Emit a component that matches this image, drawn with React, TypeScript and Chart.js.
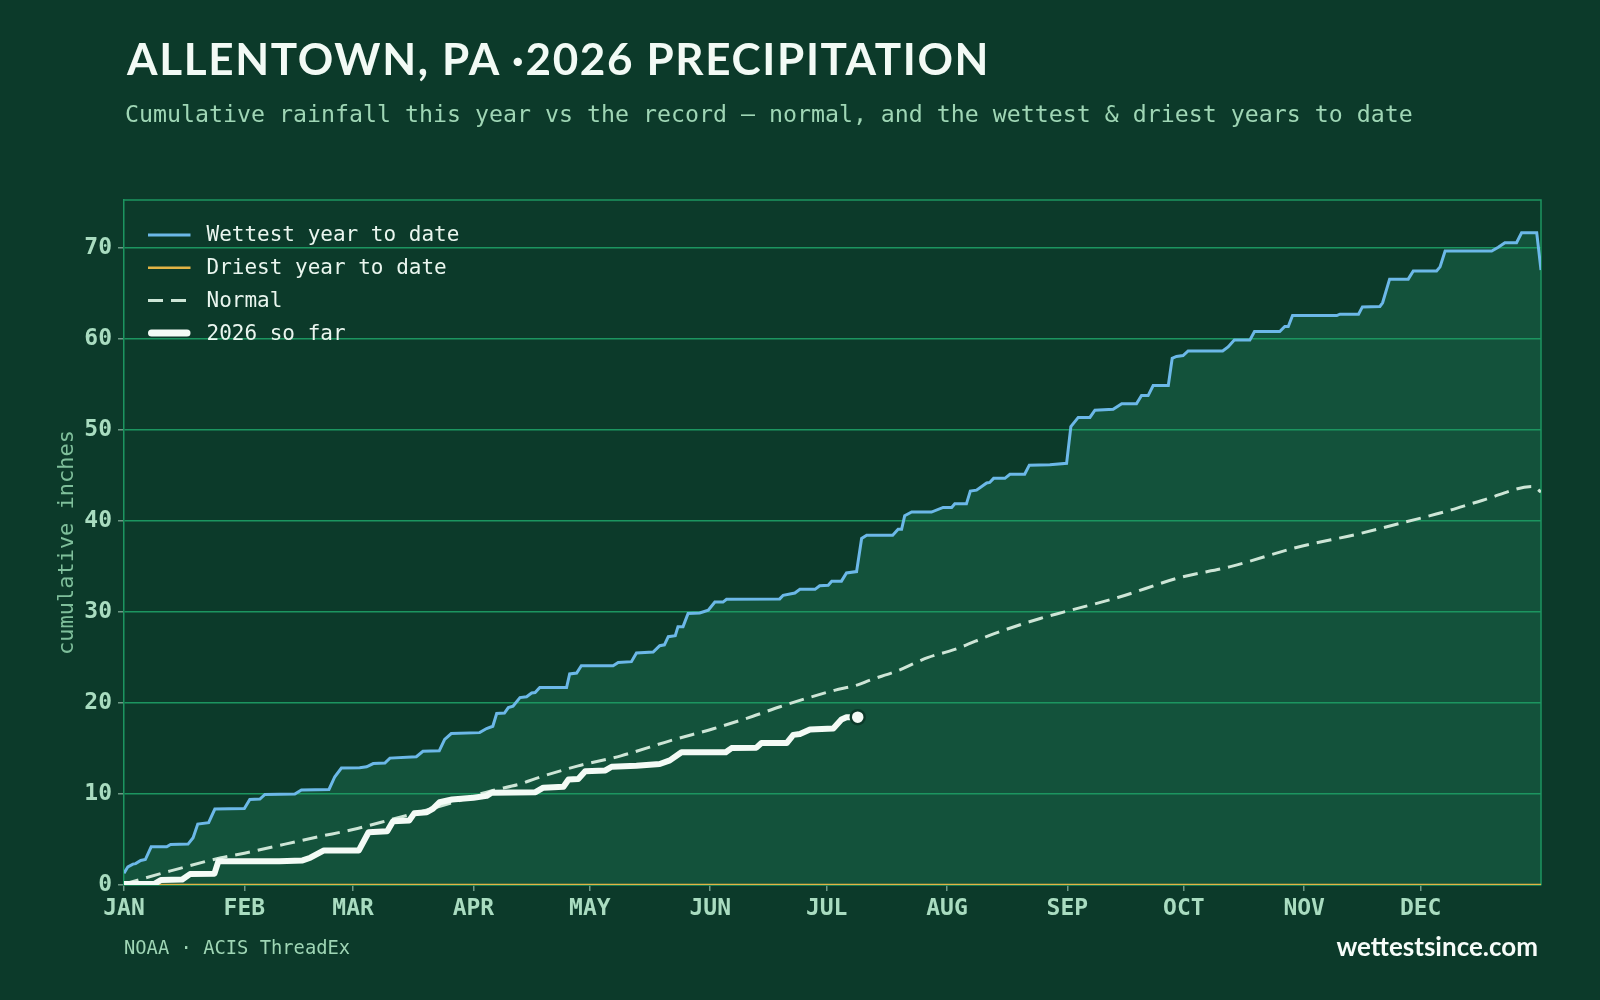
import React, { useEffect, useRef } from 'react';
import { Chart, registerables } from 'chart.js';

Chart.register(...registerables);

// ---- axis categories / ticks ----
const monthLabels = ['JAN', 'FEB', 'MAR', 'APR', 'MAY', 'JUN', 'JUL', 'AUG', 'SEP', 'OCT', 'NOV', 'DEC'];
const monthStartDays = [0, 31, 59, 90, 120, 151, 181, 212, 243, 273, 304, 334];

// ---- series: [day of year, cumulative inches] ----
const wettestYear: [number, number][] = [
  [0, 1.3], [1, 2.0], [2.3, 2.3], [3, 2.35], [4.3, 2.7], [5.5, 2.8], [7, 4.2], [11, 4.2], [12, 4.45],
  [16.5, 4.5], [17.8, 5.2], [19, 6.7], [21.8, 6.85], [23.4, 8.35], [31, 8.4], [32.4, 9.4], [35, 9.45],
  [36.3, 9.95], [44, 10.0], [45.7, 10.45], [52.8, 10.5], [54.3, 11.9], [56, 12.85], [60.7, 12.9],
  [62.5, 13.0], [64.2, 13.35], [67.2, 13.4], [68.5, 13.95], [75.3, 14.1], [77, 14.7], [81.2, 14.75],
  [82.6, 16.0], [84.3, 16.65], [91.6, 16.75], [93.4, 17.2], [95, 17.45], [96, 18.85], [98, 18.9],
  [99, 19.5], [100.2, 19.65], [102, 20.6], [103.7, 20.7], [105, 21.1], [105.9, 21.15], [107.1, 21.7],
  [114, 21.7], [114.8, 23.2], [116.6, 23.3], [117.8, 24.1], [126, 24.1], [127.3, 24.45], [130.7, 24.55],
  [132, 25.5], [136.3, 25.6], [138, 26.3], [139.2, 26.4], [140.2, 27.3], [142, 27.4], [142.7, 28.4],
  [144, 28.4], [145.3, 29.85], [148.3, 29.9], [150.5, 30.2], [152.2, 31.1], [154.3, 31.1], [155.2, 31.4],
  [168.9, 31.45], [169.8, 31.85], [172.8, 32.1], [174.1, 32.5], [178, 32.5], [179.2, 32.9], [181.4, 32.95],
  [182.3, 33.4], [184.8, 33.4], [186.1, 34.3], [188.7, 34.45], [190, 38.1], [191.3, 38.45], [198, 38.45],
  [199.4, 39.1], [200.3, 39.1], [201.1, 40.6], [202.9, 41.0], [208, 41.0], [211, 41.5], [213.2, 41.5],
  [214, 41.9], [217, 41.9], [218, 43.3], [219.6, 43.4], [222.2, 44.2], [223, 44.25], [224, 44.7],
  [226.9, 44.7], [228.2, 45.15], [232, 45.15], [233.2, 46.15], [238.5, 46.2], [242.8, 46.35], [243.9, 50.4],
  [245.8, 51.4], [248.8, 51.4], [250.1, 52.2], [254.8, 52.3], [257, 52.9], [260.8, 52.9], [262.1, 53.8],
  [263.8, 53.8], [265.1, 54.9], [269, 54.9], [270, 57.9], [271.1, 58.1], [272.8, 58.2], [274.1, 58.7],
  [283, 58.7], [284.4, 59.15], [286, 59.9], [290, 59.9], [291.2, 60.85], [297.7, 60.85], [299, 61.4],
  [299.9, 61.4], [301, 62.6], [312.4, 62.6], [313.2, 62.75], [318, 62.75], [319, 63.55], [323.5, 63.6],
  [324.2, 64.0], [326, 66.6], [330.8, 66.6], [332.1, 67.5], [338.1, 67.5], [339, 67.95], [340.3, 69.7],
  [352.3, 69.7], [354, 70.1], [355.7, 70.6], [358.7, 70.6], [360, 71.7], [363.9, 71.7], [365, 67.6],
];

const driestYear: [number, number][] = [[0, 0], [365, 0]];

const normalYear: [number, number][] = [
  [0, 0.1], [12, 1.55], [25, 3.0], [31, 3.5], [50, 5.3], [59, 6.1], [68, 7.1], [85, 9.1], [90, 9.8],
  [95, 10.4], [102, 11.1], [106, 11.7], [117, 13.1], [128, 14.2], [141, 15.9], [152, 17.2], [162, 18.55],
  [169, 19.6], [183, 21.4], [189, 22.0], [192, 22.5], [199, 23.5], [207, 25.0], [214, 25.9], [224, 27.6],
  [236, 29.3], [242, 30.0], [256, 31.6], [272, 33.8], [285, 35.0], [302, 37.1], [318, 38.6], [330, 39.9],
  [340, 41.0], [350, 42.3], [363, 43.8], [365, 43.2],
];

const year2026: [number, number][] = [
  [0, 0.1], [8, 0.15], [9.5, 0.55], [15, 0.6], [17, 1.2], [23.3, 1.25], [24.3, 2.6], [40, 2.6], [46, 2.7],
  [48, 3.0], [51.5, 3.8], [60.5, 3.8], [63, 5.8], [67.8, 5.9], [69.3, 7.0], [73.5, 7.1], [74.8, 7.9],
  [78, 8.0], [79.6, 8.4], [81.3, 9.1], [84.5, 9.4], [90, 9.6], [93.4, 9.8], [94.7, 10.15], [106, 10.2],
  [108, 10.7], [113.2, 10.8], [114.5, 11.6], [117, 11.65], [118.8, 12.5], [124, 12.6], [125.6, 13.0],
  [132, 13.1], [138, 13.3], [140.6, 13.7], [143.6, 14.6], [155, 14.6], [156.5, 15.05], [162.9, 15.1],
  [164.2, 15.6], [170.7, 15.6], [172.4, 16.5], [174.1, 16.6], [176.7, 17.1], [182.7, 17.2], [184.8, 18.2],
  [186.1, 18.45], [189, 18.45],
];

const BG = '#0c3a2a';
const GRID = '#1c9560';
const TICK_MARK = '#6e9886';
const TICK_LABEL = '#a9dcc0';
const MONO = '"DejaVu Sans Mono", monospace';

const toXY = (pts: [number, number][]) => pts.map(([x, y]) => ({ x, y }));

const frameAndLegend = {
  id: 'frameAndLegend',
  beforeDatasetsDraw(chart: any) {
    const { ctx, chartArea: a } = chart;
    ctx.save();
    ctx.strokeStyle = GRID;
    ctx.lineWidth = 1.5;
    ctx.beginPath();
    ctx.moveTo(a.left, a.top);
    ctx.lineTo(a.right, a.top);
    ctx.lineTo(a.right, a.bottom);
    ctx.stroke();
    ctx.restore();
  },
  afterDatasetsDraw(chart: any) {
    const { ctx, chartArea: a } = chart;
    const items = chart.data.datasets.filter((d: any) => d.label);
    ctx.save();
    ctx.font = `21px ${MONO}`;
    ctx.textBaseline = 'middle';
    items.forEach((ds: any, i: number) => {
      const y = a.top + 35 + i * 32.7;
      const x0 = a.left + 24;
      const x1 = a.left + 66.5;
      const w = ds.legendWidth || ds.borderWidth;
      const round = ds.borderCapStyle === 'round';
      ctx.beginPath();
      ctx.setLineDash(ds.borderDash || []);
      ctx.lineWidth = w;
      ctx.lineCap = round ? 'round' : 'butt';
      ctx.strokeStyle = ds.borderColor;
      ctx.moveTo(x0 + (round ? w / 2 : 0), y);
      ctx.lineTo(x1 - (round ? w / 2 : 0), y);
      ctx.stroke();
      ctx.setLineDash([]);
      ctx.fillStyle = '#eaf6ef';
      ctx.fillText(ds.label, a.left + 82.5, y + 1);
    });
    ctx.restore();
  },
};

export default function App() {
  const canvasRef = useRef<HTMLCanvasElement | null>(null);

  useEffect(() => {
    if (!canvasRef.current) return;
    const last2026 = year2026.length - 1;
    const chart = new Chart(canvasRef.current, {
      type: 'line',
      data: {
        datasets: [
          {
            label: 'Wettest year to date',
            data: toXY(wettestYear),
            borderColor: '#6cb8e8',
            borderWidth: 3,
            backgroundColor: '#13523b',
            fill: 'origin',
            pointRadius: 0,
            tension: 0,
            order: 2,
          } as any,
          {
            label: 'Driest year to date',
            data: toXY(driestYear),
            borderColor: '#e3b445',
            borderWidth: 2.5,
            fill: false,
            pointRadius: 0,
            order: 1,
          },
          {
            label: 'Normal',
            data: toXY(normalYear),
            borderColor: '#cde5d6',
            borderWidth: 3,
            borderDash: [15, 8],
            fill: false,
            pointRadius: 0,
            cubicInterpolationMode: 'monotone',
            order: 1,
          },
          {
            label: '2026 so far',
            data: toXY(year2026),
            borderColor: '#f4fbf6',
            borderWidth: 6,
            legendWidth: 7,
            borderCapStyle: 'round',
            borderJoinStyle: 'round',
            fill: false,
            tension: 0,
            pointRadius: (c: any) => (c.dataIndex === last2026 ? 7 : 0),
            pointBackgroundColor: '#f4fbf6',
            pointBorderColor: BG,
            pointBorderWidth: 2.5,
            order: 0,
          } as any,
        ],
      },
      options: {
        responsive: false,
        devicePixelRatio: 1,
        animation: false,
        layout: { padding: { top: 200, right: 59, bottom: 0, left: 0 } },
        plugins: {
          legend: { display: false },
          tooltip: { enabled: false },
          filler: { drawTime: 'beforeDraw' },
        } as any,
        scales: {
          x: {
            type: 'linear',
            min: 0,
            max: 365,
            afterFit: (s: any) => { s.height = 115; },
            afterBuildTicks: (s: any) => { s.ticks = monthStartDays.map((v) => ({ value: v })); },
            grid: { drawOnChartArea: false, drawTicks: true, tickLength: 6, tickColor: TICK_MARK, lineWidth: 1.5 },
            border: { display: true, color: GRID, width: 1.5 },
            ticks: {
              autoSkip: false,
              maxRotation: 0,
              padding: 4,
              color: TICK_LABEL,
              font: { family: MONO, size: 23, weight: 'bold' },
              callback: (v: any) => monthLabels[monthStartDays.indexOf(Number(v))] ?? '',
            },
          },
          y: {
            type: 'linear',
            min: 0,
            max: 75.3,
            afterFit: (s: any) => { s.width = 124; },
            grid: { color: GRID, lineWidth: 1.5, drawTicks: true, tickLength: 6, tickColor: TICK_MARK },
            border: { display: true, color: GRID, width: 1.5 },
            ticks: {
              stepSize: 10,
              includeBounds: false,
              padding: 6,
              color: TICK_LABEL,
              font: { family: MONO, size: 23, weight: 'bold' },
              callback: (v: any) => String(v),
            },
            title: {
              display: true,
              text: 'cumulative inches',
              color: '#7fbf9b',
              font: { family: MONO, size: 22, weight: 'normal' },
              padding: { top: 54, bottom: 0 },
            },
          },
        },
      } as any,
      plugins: [frameAndLegend],
    });
    return () => chart.destroy();
  }, []);

  return (
    <div style={{ position: 'fixed', left: 0, top: 0, width: 1600, height: 1000, background: BG, overflow: 'hidden' }}>
      <canvas ref={canvasRef} width={1600} height={1000} style={{ position: 'absolute', left: 0, top: 0, width: 1600, height: 1000 }} />
      <div style={{ position: 'absolute', left: 127, top: 36, font: '700 44px Lato', lineHeight: '44px', color: '#f2faf5', letterSpacing: '1.65px', whiteSpace: 'nowrap' }}>
        ALLENTOWN, PA ·2026 PRECIPITATION
      </div>
      <div style={{ position: 'absolute', left: 125, top: 102, fontFamily: MONO, fontSize: 23.25, lineHeight: '23px', color: '#9fd6b5', whiteSpace: 'nowrap' }}>
        Cumulative rainfall this year vs the record — normal, and the wettest &amp; driest years to date
      </div>
      <div style={{ position: 'absolute', left: 124, top: 939, fontFamily: MONO, fontSize: 18.8, lineHeight: '18.8px', color: '#9fd6b5', whiteSpace: 'nowrap' }}>
        NOAA · ACIS ThreadEx
      </div>
      <div style={{ position: 'absolute', right: 62, top: 933, font: '700 26px Lato', lineHeight: '26px', color: '#f7fcf9', whiteSpace: 'nowrap' }}>
        wettestsince.com
      </div>
    </div>
  );
}
